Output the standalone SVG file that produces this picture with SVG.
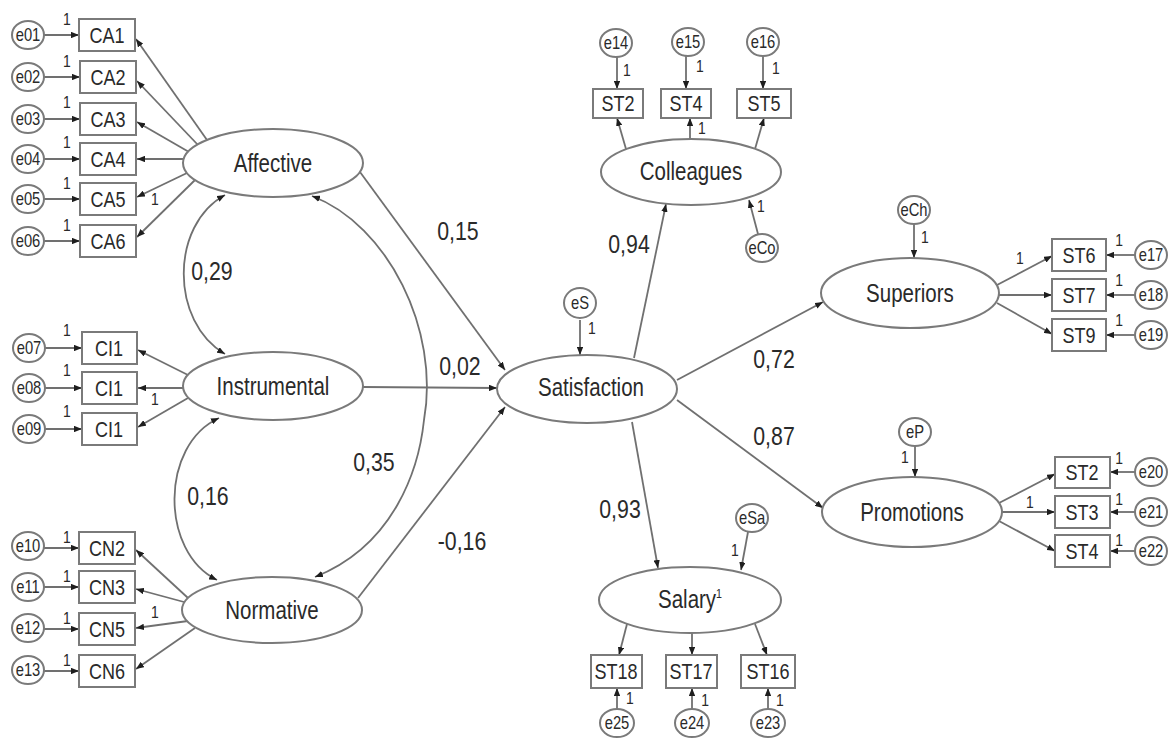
<svg xmlns="http://www.w3.org/2000/svg" width="1169" height="745" viewBox="0 0 1169 745">
<defs>
<marker id="ah" viewBox="0 0 10 8" refX="10" refY="4" markerWidth="8" markerHeight="6.4" markerUnits="userSpaceOnUse" orient="auto-start-reverse"><path d="M0,0 L10,4 L0,8 z" fill="#1e1e1e"/></marker>
</defs>
<style>
text{font-family:"Liberation Sans",Arial,sans-serif;fill:#2a2a2a;text-anchor:middle;transform-box:fill-box;transform-origin:center;transform:scaleX(0.82)}
.lat ellipse{fill:#fff;stroke:#7a7a7a;stroke-width:2}
.lat text{font-size:25px}
.obs rect{fill:#fff;stroke:#7a7a7a;stroke-width:2}
.obs text{font-size:22px}
.err ellipse{fill:#fff;stroke:#7a7a7a;stroke-width:2}
.err text{font-size:18px}
.one{font-size:17px}
.coef{font-size:26px}
#connectors path,#connectors line{fill:none;stroke:#707070;stroke-width:1.8;marker-end:url(#ah)}
#connectors .cov{marker-start:url(#ah)}
</style>
<rect width="1169" height="745" fill="#fff"/>

<g id="connectors">
<line x1="44" y1="35" x2="79" y2="35"/>
<line x1="44" y1="77" x2="80" y2="77"/>
<line x1="44" y1="119" x2="80" y2="119"/>
<line x1="44" y1="159" x2="80" y2="159"/>
<line x1="44" y1="199" x2="80" y2="199"/>
<line x1="44" y1="241" x2="80" y2="241"/>
<line x1="45" y1="348" x2="82" y2="348"/>
<line x1="45" y1="388" x2="82" y2="388"/>
<line x1="45" y1="429" x2="82" y2="429"/>
<line x1="44" y1="548" x2="79" y2="548"/>
<line x1="44" y1="587" x2="79" y2="587"/>
<line x1="44" y1="629" x2="79" y2="629"/>
<line x1="44" y1="671" x2="79" y2="671"/>
<line x1="207" y1="140" x2="136" y2="39"/>
<line x1="198" y1="145" x2="137" y2="81"/>
<line x1="189" y1="152" x2="137" y2="122"/>
<line x1="183" y1="159" x2="137" y2="159"/>
<line x1="187" y1="173" x2="137" y2="197"/>
<line x1="195" y1="180" x2="137" y2="237"/>
<line x1="188" y1="375" x2="138" y2="350"/>
<line x1="183" y1="388" x2="138" y2="388"/>
<line x1="188" y1="398" x2="138" y2="427"/>
<line x1="188" y1="598" x2="136" y2="550"/>
<line x1="184" y1="602" x2="136" y2="589"/>
<line x1="188" y1="621" x2="136" y2="628"/>
<line x1="195" y1="628" x2="136" y2="669"/>
<path class="cov" d="M225,195 C170,225 170,322 225,354"/>
<path class="cov" d="M219,418 C160,445 160,552 217,580"/>
<path class="cov" d="M312,196 C388,225 440,330 424,420 C419,468 395,545 315,577"/>
<line x1="360" y1="172" x2="505" y2="370"/>
<line x1="363" y1="387" x2="497" y2="388"/>
<line x1="358" y1="598" x2="505" y2="407"/>
<line x1="580" y1="320" x2="580" y2="355"/>
<line x1="634" y1="358" x2="666" y2="204"/>
<line x1="677" y1="380" x2="823" y2="302"/>
<line x1="677" y1="400" x2="823" y2="508"/>
<line x1="632" y1="422" x2="658" y2="568"/>
<line x1="617" y1="57" x2="617" y2="89"/>
<line x1="686" y1="56" x2="686" y2="89"/>
<line x1="763" y1="56" x2="763" y2="89"/>
<line x1="626" y1="149" x2="617" y2="118"/>
<line x1="690" y1="139" x2="690" y2="118"/>
<line x1="755" y1="149" x2="764" y2="118"/>
<line x1="758" y1="234" x2="749" y2="200"/>
<line x1="914" y1="224" x2="914" y2="258"/>
<line x1="997" y1="285" x2="1052" y2="256"/>
<line x1="999" y1="295" x2="1052" y2="295"/>
<line x1="997" y1="303" x2="1052" y2="334"/>
<line x1="1135" y1="255" x2="1106" y2="255"/>
<line x1="1135" y1="295" x2="1106" y2="295"/>
<line x1="1135" y1="335" x2="1106" y2="335"/>
<line x1="915" y1="446" x2="915" y2="477"/>
<line x1="999" y1="503" x2="1055" y2="474"/>
<line x1="1002" y1="512" x2="1055" y2="512"/>
<line x1="999" y1="521" x2="1055" y2="551"/>
<line x1="1135" y1="472" x2="1110" y2="472"/>
<line x1="1135" y1="512" x2="1110" y2="512"/>
<line x1="1135" y1="551" x2="1110" y2="551"/>
<line x1="748" y1="532" x2="741" y2="570"/>
<line x1="627" y1="624" x2="619" y2="655"/>
<line x1="692" y1="633" x2="692" y2="655"/>
<line x1="755" y1="624" x2="767" y2="655"/>
<line x1="617" y1="709" x2="617" y2="688"/>
<line x1="692" y1="709" x2="692" y2="688"/>
<line x1="768" y1="709" x2="768" y2="688"/>
</g>

<g id="weights">
<text class="one" x="67" y="25">1</text>
<text class="one" x="67" y="67">1</text>
<text class="one" x="67" y="108">1</text>
<text class="one" x="67" y="148">1</text>
<text class="one" x="67" y="189">1</text>
<text class="one" x="67" y="231">1</text>
<text class="one" x="155" y="205">1</text>
<text class="one" x="67" y="336">1</text>
<text class="one" x="67" y="376">1</text>
<text class="one" x="67" y="417">1</text>
<text class="one" x="155" y="405">1</text>
<text class="one" x="67" y="543">1</text>
<text class="one" x="67" y="582">1</text>
<text class="one" x="67" y="624">1</text>
<text class="one" x="67" y="666">1</text>
<text class="one" x="155" y="618">1</text>
<text class="one" x="592" y="334">1</text>
<text class="one" x="627" y="76">1</text>
<text class="one" x="700" y="72">1</text>
<text class="one" x="776" y="74">1</text>
<text class="one" x="702" y="134">1</text>
<text class="one" x="761" y="212">1</text>
<text class="one" x="925" y="243">1</text>
<text class="one" x="1020" y="264">1</text>
<text class="one" x="1119" y="246">1</text>
<text class="one" x="1119" y="286">1</text>
<text class="one" x="1119" y="326">1</text>
<text class="one" x="905" y="463">1</text>
<text class="one" x="1030" y="508">1</text>
<text class="one" x="1119" y="464">1</text>
<text class="one" x="1119" y="505">1</text>
<text class="one" x="1119" y="546">1</text>
<text class="one" x="735" y="556">1</text>
<text class="one" x="630" y="704">1</text>
<text class="one" x="705" y="706">1</text>
<text class="one" x="780" y="706">1</text>
</g>

<g id="coefficients">
<text class="coef" x="458" y="240">0,15</text>
<text class="coef" x="460" y="375">0,02</text>
<text class="coef" x="212" y="280">0,29</text>
<text class="coef" x="208" y="505">0,16</text>
<text class="coef" x="374" y="471">0,35</text>
<text class="coef" x="462" y="550">-0,16</text>
<text class="coef" x="629" y="253">0,94</text>
<text class="coef" x="774" y="368">0,72</text>
<text class="coef" x="774" y="445">0,87</text>
<text class="coef" x="620" y="518">0,93</text>
</g>

<g id="Affective" class="lat"><ellipse cx="273" cy="163" rx="90" ry="34"/><text x="273" y="172">Affective</text></g>
<g id="Instrumental" class="lat"><ellipse cx="273" cy="386" rx="90" ry="34"/><text x="273" y="395">Instrumental</text></g>
<g id="Normative" class="lat"><ellipse cx="272" cy="610" rx="90" ry="33"/><text x="272" y="619">Normative</text></g>
<g id="Satisfaction" class="lat"><ellipse cx="587" cy="389" rx="90" ry="34"/><text x="591" y="396">Satisfaction</text></g>
<g id="Colleagues" class="lat"><ellipse cx="691" cy="172" rx="90" ry="33"/><text x="691" y="180">Colleagues</text></g>
<g id="Superiors" class="lat"><ellipse cx="910" cy="293" rx="89" ry="35"/><text x="910" y="302">Superiors</text></g>
<g id="Promotions" class="lat"><ellipse cx="912" cy="512" rx="90" ry="35"/><text x="912" y="521">Promotions</text></g>
<g id="Salary" class="lat"><ellipse cx="690" cy="600" rx="91" ry="33"/><text x="690" y="608">Salary<tspan font-size="13" dy="-10">1</tspan></text></g>

<g id="CA1" class="obs"><rect x="79" y="19" width="56" height="32"/><text x="107" y="43">CA1</text></g>
<g id="CA2" class="obs"><rect x="80" y="61" width="56" height="32"/><text x="108" y="85">CA2</text></g>
<g id="CA3" class="obs"><rect x="80" y="103" width="56" height="32"/><text x="108" y="127">CA3</text></g>
<g id="CA4" class="obs"><rect x="80" y="143" width="56" height="32"/><text x="108" y="167">CA4</text></g>
<g id="CA5" class="obs"><rect x="80" y="183" width="56" height="32"/><text x="108" y="207">CA5</text></g>
<g id="CA6" class="obs"><rect x="80" y="225" width="56" height="32"/><text x="108" y="249">CA6</text></g>
<g id="CI1a" class="obs"><rect x="82" y="332" width="55" height="32"/><text x="109" y="356">CI1</text></g>
<g id="CI1b" class="obs"><rect x="82" y="372" width="55" height="32"/><text x="109" y="396">CI1</text></g>
<g id="CI1c" class="obs"><rect x="82" y="413" width="55" height="32"/><text x="109" y="437">CI1</text></g>
<g id="CN2" class="obs"><rect x="79" y="532" width="56" height="32"/><text x="107" y="556">CN2</text></g>
<g id="CN3" class="obs"><rect x="79" y="571" width="56" height="32"/><text x="107" y="595">CN3</text></g>
<g id="CN5" class="obs"><rect x="79" y="613" width="56" height="32"/><text x="107" y="637">CN5</text></g>
<g id="CN6" class="obs"><rect x="79" y="655" width="56" height="32"/><text x="107" y="679">CN6</text></g>
<g id="ST2c" class="obs"><rect x="593" y="89" width="50" height="29"/><text x="618" y="111">ST2</text></g>
<g id="ST4c" class="obs"><rect x="661" y="89" width="50" height="29"/><text x="686" y="111">ST4</text></g>
<g id="ST5c" class="obs"><rect x="737" y="89" width="54" height="29"/><text x="764" y="111">ST5</text></g>
<g id="ST6" class="obs"><rect x="1052" y="239" width="54" height="32"/><text x="1079" y="263">ST6</text></g>
<g id="ST7" class="obs"><rect x="1052" y="279" width="54" height="32"/><text x="1079" y="303">ST7</text></g>
<g id="ST9" class="obs"><rect x="1052" y="319" width="54" height="32"/><text x="1079" y="343">ST9</text></g>
<g id="ST2p" class="obs"><rect x="1055" y="457" width="55" height="31"/><text x="1082" y="480">ST2</text></g>
<g id="ST3p" class="obs"><rect x="1055" y="496" width="55" height="32"/><text x="1082" y="520">ST3</text></g>
<g id="ST4p" class="obs"><rect x="1055" y="535" width="55" height="32"/><text x="1082" y="559">ST4</text></g>
<g id="ST18" class="obs"><rect x="591" y="655" width="51" height="33"/><text x="616" y="679">ST18</text></g>
<g id="ST17" class="obs"><rect x="666" y="655" width="51" height="33"/><text x="691" y="679">ST17</text></g>
<g id="ST16" class="obs"><rect x="741" y="655" width="54" height="33"/><text x="768" y="679">ST16</text></g>

<g id="e01" class="err"><ellipse cx="28" cy="35" rx="16" ry="14"/><text x="28" y="41">e01</text></g>
<g id="e02" class="err"><ellipse cx="28" cy="77" rx="16" ry="14"/><text x="28" y="83">e02</text></g>
<g id="e03" class="err"><ellipse cx="28" cy="119" rx="16" ry="14"/><text x="28" y="125">e03</text></g>
<g id="e04" class="err"><ellipse cx="28" cy="159" rx="16" ry="14"/><text x="28" y="165">e04</text></g>
<g id="e05" class="err"><ellipse cx="28" cy="199" rx="16" ry="14"/><text x="28" y="205">e05</text></g>
<g id="e06" class="err"><ellipse cx="28" cy="241" rx="16" ry="14"/><text x="28" y="247">e06</text></g>
<g id="e07" class="err"><ellipse cx="29" cy="348" rx="16" ry="14"/><text x="29" y="354">e07</text></g>
<g id="e08" class="err"><ellipse cx="29" cy="388" rx="16" ry="14"/><text x="29" y="394">e08</text></g>
<g id="e09" class="err"><ellipse cx="29" cy="429" rx="16" ry="14"/><text x="29" y="435">e09</text></g>
<g id="e10" class="err"><ellipse cx="28" cy="546" rx="16" ry="14"/><text x="28" y="552">e10</text></g>
<g id="e11" class="err"><ellipse cx="28" cy="587" rx="16" ry="14"/><text x="28" y="593">e11</text></g>
<g id="e12" class="err"><ellipse cx="28" cy="628" rx="16" ry="14"/><text x="28" y="634">e12</text></g>
<g id="e13" class="err"><ellipse cx="28" cy="670" rx="16" ry="14"/><text x="28" y="676">e13</text></g>
<g id="e14" class="err"><ellipse cx="616" cy="43" rx="16" ry="14"/><text x="616" y="49">e14</text></g>
<g id="e15" class="err"><ellipse cx="688" cy="42" rx="16" ry="14"/><text x="688" y="48">e15</text></g>
<g id="e16" class="err"><ellipse cx="763" cy="42" rx="16" ry="14"/><text x="763" y="48">e16</text></g>
<g id="eCo" class="err"><ellipse cx="762" cy="248" rx="16" ry="14"/><text x="762" y="254">eCo</text></g>
<g id="eS" class="err"><ellipse cx="580" cy="303" rx="16" ry="15"/><text x="580" y="309">eS</text></g>
<g id="eCh" class="err"><ellipse cx="914" cy="210" rx="16" ry="14"/><text x="914" y="216">eCh</text></g>
<g id="e17" class="err"><ellipse cx="1151" cy="255" rx="16" ry="14"/><text x="1151" y="261">e17</text></g>
<g id="e18" class="err"><ellipse cx="1151" cy="295" rx="16" ry="14"/><text x="1151" y="301">e18</text></g>
<g id="e19" class="err"><ellipse cx="1151" cy="335" rx="16" ry="14"/><text x="1151" y="341">e19</text></g>
<g id="eP" class="err"><ellipse cx="915" cy="432" rx="16" ry="14"/><text x="915" y="438">eP</text></g>
<g id="e20" class="err"><ellipse cx="1151" cy="472" rx="16" ry="14"/><text x="1151" y="478">e20</text></g>
<g id="e21" class="err"><ellipse cx="1151" cy="512" rx="16" ry="14"/><text x="1151" y="518">e21</text></g>
<g id="e22" class="err"><ellipse cx="1151" cy="551" rx="16" ry="14"/><text x="1151" y="557">e22</text></g>
<g id="eSa" class="err"><ellipse cx="752" cy="518" rx="16" ry="14"/><text x="752" y="524">eSa</text></g>
<g id="e25" class="err"><ellipse cx="617" cy="723" rx="17" ry="14"/><text x="617" y="729">e25</text></g>
<g id="e24" class="err"><ellipse cx="692" cy="723" rx="17" ry="14"/><text x="692" y="729">e24</text></g>
<g id="e23" class="err"><ellipse cx="768" cy="723" rx="17" ry="14"/><text x="768" y="729">e23</text></g>
</svg>
